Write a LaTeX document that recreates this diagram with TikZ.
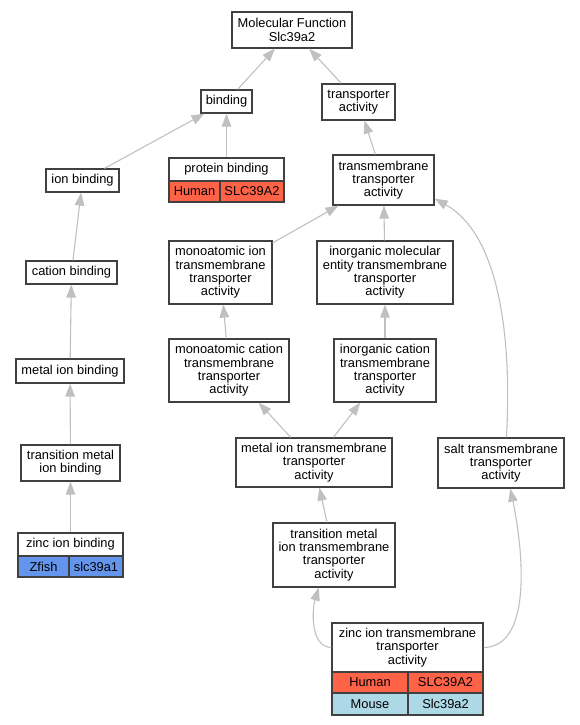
\documentclass[tikz,border=0pt]{standalone}
\usepackage{fontspec}
\setmainfont{Liberation Sans}
\usetikzlibrary{arrows.meta}
\definecolor{human}{RGB}{255,99,71}
\definecolor{mouse}{RGB}{173,216,230}
\definecolor{zfish}{RGB}{100,149,237}
\definecolor{edgegray}{RGB}{192,192,192}
\definecolor{boxline}{RGB}{64,64,64}
\tikzset{
  term/.style={draw=boxline,line width=1.2bp,fill=white,inner sep=0pt,align=center,font=\fontsize{12.9}{13.3}\selectfont},
  cell/.style={term},
  isa/.style={draw=edgegray,line width=1.1bp,-{Triangle[length=13bp,width=9.5bp]}}
}
\begin{document}
\begin{tikzpicture}[x=1bp,y=-1bp]
\useasboundingbox (0,0) rectangle (580,725);

\node (MF) at (292,30)[term,minimum width=120bp,minimum height=36bp] {Molecular Function\\Slc39a2};
\node (BIND) at (226.5,101.5)[term,minimum width=51bp,minimum height=23bp] {binding};
\node (TA) at (358.5,102)[term,minimum width=73bp,minimum height=36bp] {transporter\\activity};
\node (IONB) at (82.5,180.5)[term,minimum width=73bp,minimum height=23bp] {ion binding};
\node (PROTB) at (226.5,169.5)[term,minimum width=115bp,minimum height=23bp] {protein binding};
\node (PROTBh) at (194.5,191.5)[cell,fill=human,minimum width=51bp,minimum height=21bp] {Human};
\node (PROTBg) at (252,191.5)[cell,fill=human,minimum width=64bp,minimum height=21bp] {SLC39A2};
\node (TTA) at (383.5,180)[term,minimum width=101bp,minimum height=50bp] {transmembrane\\transporter\\activity};
\node (CATB) at (71.5,272.5)[term,minimum width=91bp,minimum height=23bp] {cation binding};
\node (MIONTTA) at (220.5,272.5)[term,minimum width=103bp,minimum height=63bp] {monoatomic ion\\transmembrane\\transporter\\activity};
\node (IMETTA) at (385,272.5)[term,minimum width=136bp,minimum height=63bp] {inorganic molecular\\entity transmembrane\\transporter\\activity};
\node (METB) at (70,371)[term,minimum width=108bp,minimum height=24bp] {metal ion binding};
\node (MCATTTA) at (229,370.5)[term,minimum width=120bp,minimum height=63bp] {monoatomic cation\\transmembrane\\transporter\\activity};
\node (ICATTTA) at (385,370.5)[term,minimum width=102bp,minimum height=63bp] {inorganic cation\\transmembrane\\transporter\\activity};
\node (TMB) at (70.5,463)[term,minimum width=99bp,minimum height=36bp] {transition metal\\ion binding};
\node (METTTA) at (314,462.5)[term,minimum width=156bp,minimum height=49bp] {metal ion transmembrane\\transporter\\activity};
\node (SALTTTA) at (501,463)[term,minimum width=126bp,minimum height=50bp] {salt transmembrane\\transporter\\activity};
\node (ZNB) at (70.5,544.5)[term,minimum width=105bp,minimum height=23bp] {zinc ion binding};
\node (ZNBz) at (43.5,566.5)[cell,fill=zfish,minimum width=51bp,minimum height=21bp] {Zfish};
\node (ZNBg) at (96,566.5)[cell,fill=zfish,minimum width=54bp,minimum height=21bp] {slc39a1};
\node (TMTTA) at (334,555)[term,minimum width=122bp,minimum height=64bp] {transition metal\\ion transmembrane\\transporter\\activity};
\node (ZNTTA) at (407.5,647.5)[term,minimum width=151bp,minimum height=49bp] {zinc ion transmembrane\\transporter\\activity};
\node (ZNTTAh) at (370,682.5)[cell,fill=human,minimum width=76bp,minimum height=21bp] {Human};
\node (ZNTTAg) at (445.5,682.5)[cell,fill=human,minimum width=75bp,minimum height=21bp] {SLC39A2};
\node (ZNTTAm) at (370,704)[cell,fill=mouse,minimum width=76bp,minimum height=22bp] {Mouse};
\node (ZNTTAs) at (445.5,704)[cell,fill=mouse,minimum width=75bp,minimum height=22bp] {Slc39a2};

\draw [isa] (BIND) -- (MF);
\draw [isa] (TA) -- (MF);
\draw [isa] (IONB) -- (BIND);
\draw [isa] (PROTB) -- (BIND);
\draw [isa] (TTA) -- (TA);
\draw [isa] (CATB) -- (IONB);
\draw [isa] (MIONTTA) -- (TTA);
\draw [isa] (IMETTA) -- (TTA);
\draw [isa] (SALTTTA.78) .. controls (512,340) and (500,235) .. (TTA.-20);
\draw [isa] (METB) -- (CATB);
\draw [isa] (MCATTTA) -- (MIONTTA);
\draw [isa] (ICATTTA) -- (IMETTA);
\draw [isa] (TMB) -- (METB);
\draw [isa] (METTTA) -- (MCATTTA);
\draw [isa] (METTTA) -- (ICATTTA);
\draw [isa] (ZNB) -- (TMB);
\draw [isa] (TMTTA) -- (METTTA);
\draw [isa] (ZNTTA.west) .. controls (310,647) and (312,610) .. (TMTTA.-115);
\draw [isa] (ZNTTA.east) .. controls (530,647) and (525,560) .. (SALTTTA.-70);
\end{tikzpicture}
\end{document}
